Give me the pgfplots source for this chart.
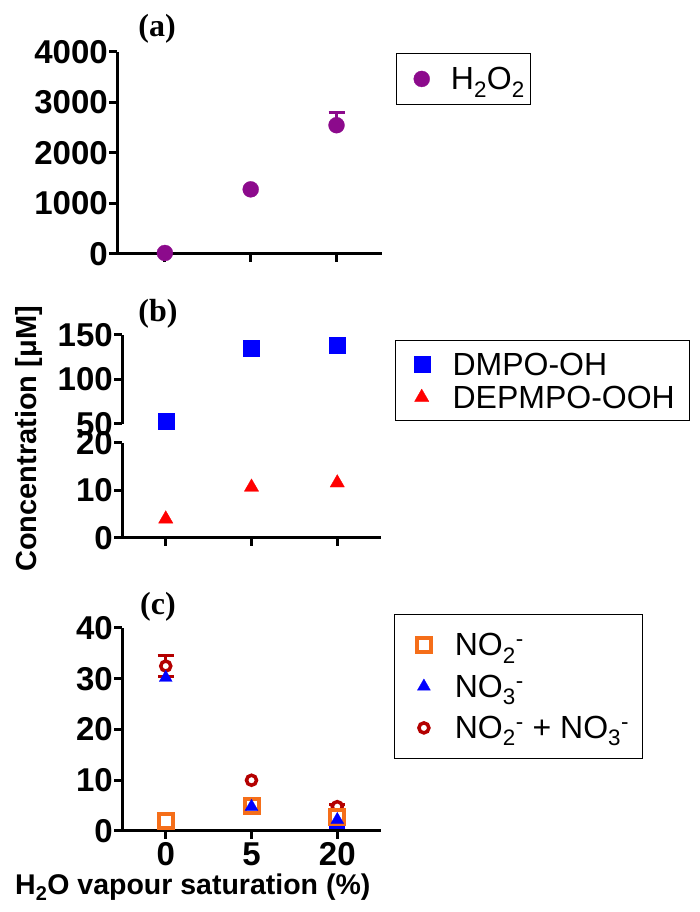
\documentclass[border=0pt]{standalone}
\usepackage{fontspec}
\setmainfont{Liberation Sans}
\newfontfamily\timesfont{Liberation Serif}
\usepackage{pgfplots}
\pgfplotsset{compat=1.18}

\definecolor{cpurple}{RGB}{140,10,140}
\definecolor{cblue}{RGB}{0,0,255}
\definecolor{cred}{RGB}{255,0,0}
\definecolor{corange}{RGB}{245,110,25}
\definecolor{cdred}{RGB}{180,0,0}

\newcommand\tfont{\fontsize{33}{33}\selectfont\bfseries}
\newcommand\lfont{\fontsize{32}{32}\selectfont}

\pgfplotsset{
  gp/.style={
    scale only axis,
    axis x line=bottom, axis y line=left,
    axis line style={-, line width=3pt, black},
    tick align=outside,
    major tick length=8pt,
    tick style={line width=3pt, black},
    xtick={0,1,2},
    xmin=-0.51, xmax=2.51,
    xticklabels={},
    tick label style={font=\tfont},
    yticklabel style={inner xsep=1pt},
    /pgf/number format/1000 sep={},
    /pgf/number format/assume math mode=true,
    clip=false,
    legend cell align=left,
    legend style={draw=black, line width=1.2pt, fill=white, anchor=north west,
      inner xsep=0pt, font=\lfont,
      nodes={inner ysep=0pt, text height=22pt, text depth=0pt}},
  },
}

\pgfplotstableread{
x y
0 20
1 1280
2 2550
}\tabA

\begin{document}
\begin{tikzpicture}
\path[use as bounding box] (0,0) rectangle (699pt,912pt);

% ---------------- panel (a)
\begin{axis}[gp, at={(117pt,658pt)}, anchor=south west,
  width=265pt, height=202pt,
  xmin=-0.558, xmax=2.53, ymin=0, ymax=4000,
  ytick={0,1000,2000,3000,4000},
  legend style={at={(axis description cs:1.0528,0.9965)}, inner ysep=14.5pt,
    column sep=13pt, nodes={inner xsep=6pt}},
  legend image code/.code={\path (-25pt,-11pt) (10pt,11pt); \draw[#1] plot coordinates {(0pt,0pt)};}]
\addplot[forget plot, only marks, mark=none, color=cpurple,
  error bars/.cd, y dir=plus, y explicit,
  error bar style={line width=3pt, color=cpurple},
  error mark options={rotate=90, line width=3pt, mark size=8pt, color=cpurple}]
  coordinates {(2,2550) +- (0,250)};
\addplot[only marks, mark=*, mark size=8pt, color=cpurple, line width=0.3pt] table[x=x,y=y] {\tabA};
\addlegendentry{H\textsubscript{2}O\textsubscript{2}}
\end{axis}

% ---------------- panel (b) upper
\begin{axis}[gp, at={(122pt,488pt)}, anchor=south west,
  width=259pt, height=89pt,
  axis x line=none,
  ymin=50, ymax=150, ytick={50,100,150}]
\addplot[only marks, mark=square*, mark size=8pt, color=cblue, line width=0.3pt]
  coordinates {(0,53) (1,135) (2,139)};
\end{axis}

% ---------------- panel (b) lower
\begin{axis}[gp, at={(122pt,374pt)}, anchor=south west,
  width=259pt, height=95pt,
  ymin=0, ymax=20, ytick={0,10,20},
  legend style={at={(axis description cs:1.054,2.084)}, inner ysep=12.3pt,
    row sep=11pt, column sep=5.7pt, nodes={inner xsep=15pt}},
  legend image code/.code={\path (-26pt,-11pt) (10pt,11pt); \draw[#1] plot coordinates {(0pt,0pt)};}]
\addlegendimage{only marks, mark=square*, mark size=8pt, color=cblue, line width=0.3pt}
\addlegendentry{DMPO-OH}
\addplot[only marks, mark=triangle*, mark size=8.3pt, color=cred, line width=0.3pt]
  coordinates {(0,4.0) (1,10.7) (2,11.6)};
\addlegendentry{DEPMPO-OOH}
\end{axis}

% ---------------- panel (c)
\begin{axis}[gp, at={(122pt,81pt)}, anchor=south west,
  width=259pt, height=203pt,
  ymin=0, ymax=40, ytick={0,10,20,30,40},
  xticklabels={0,5,20},
  legend style={at={(axis description cs:1.0502,1.069)}, inner ysep=18.8pt,
    row sep=18.7pt, column sep=6.6pt, nodes={inner xsep=13.7pt}},
  legend image code/.code={\path (-28.7pt,-11pt) (10pt,11pt); \draw[#1] plot coordinates {(0pt,0pt)};}]
\addlegendimage{only marks, mark=square*, mark size=7pt, mark options={fill=white, draw=corange, line width=4pt}}
\addlegendentry{NO\textsubscript{2}\textsuperscript{-}}
\addlegendimage{only marks, mark=triangle*, mark size=7.5pt, color=cblue, line width=0.3pt}
\addlegendentry{NO\textsubscript{3}\textsuperscript{-}}
\addlegendimage{only marks, mark=*, mark size=5pt, mark options={fill=white, draw=cdred, line width=3.5pt}}
\addlegendentry{NO\textsubscript{2}\textsuperscript{-} + NO\textsubscript{3}\textsuperscript{-}}
% sum: error bars then marks
\addplot[forget plot, only marks, mark=none, color=cdred,
  error bars/.cd, y dir=both, y explicit,
  error bar style={line width=3pt, color=cdred},
  error mark options={rotate=90, line width=3pt, mark size=8pt, color=cdred}]
  coordinates {(0,32.5) +- (0,2.1) (2,4.8) +- (0,0.5)};
\addplot[forget plot, only marks, mark=*, mark size=5pt, mark options={fill=white, draw=cdred, line width=3.5pt}]
  coordinates {(0,32.5) (1,10.0) (2,4.8)};
% NO2-
\addplot[forget plot, only marks, mark=square*, mark size=7pt, mark options={fill=white, draw=corange, line width=4pt}]
  coordinates {(0,2.0) (1,4.9) (2,2.8)};
% NO3-
\addplot[forget plot, only marks, mark=none, color=cblue,
  error bars/.cd, y dir=both, y explicit,
  error bar style={line width=3pt, color=cblue},
  error mark options={rotate=90, line width=3pt, mark size=8pt, color=cblue}]
  coordinates {(2,2.2) +- (0,1.6)};
\addplot[forget plot, only marks, mark=triangle*, mark size=7.5pt, color=cblue, line width=0.3pt]
  coordinates {(0,30.2) (1,4.8) (2,2.2)};
\end{axis}

% panel letters and axis titles
\node[font=\timesfont\bfseries\fontsize{32}{32}\selectfont] at (157pt,883pt) {(a)};
\node[font=\timesfont\bfseries\fontsize{32}{32}\selectfont] at (158pt,598pt) {(b)};
\node[font=\timesfont\bfseries\fontsize{32}{32}\selectfont] at (158pt,305pt) {(c)};
\node[rotate=90, anchor=base, inner sep=0pt, font=\bfseries\fontsize{29}{29}\selectfont] at (36.7pt,473pt) {Concentration [μM]};
\node[anchor=base west, inner sep=0pt, font=\bfseries\fontsize{28.5}{28.5}\selectfont] at (15pt,17pt) {H\textsubscript{2}O vapour saturation (\%)};
\end{tikzpicture}
\end{document}
